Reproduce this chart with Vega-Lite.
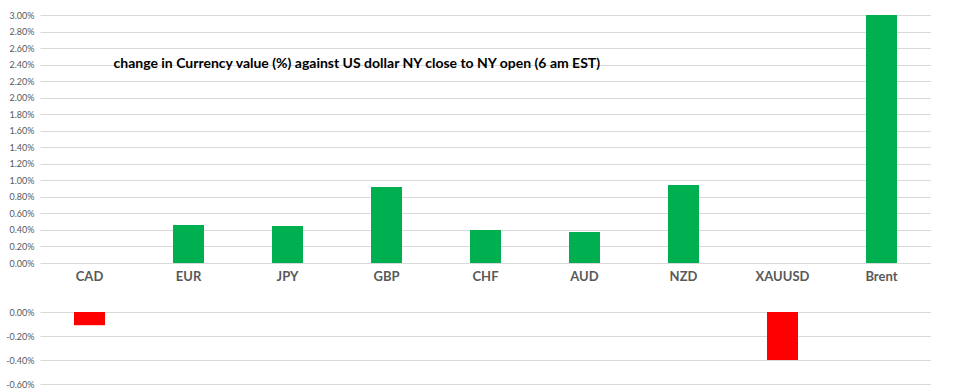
{
  "$schema": "https://vega.github.io/schema/vega-lite/v6.json",
  "padding": {"left": 5, "top": 11, "right": 0, "bottom": 0},
  "background": "white",
  "spacing": 25,
  "config": {
    "view": {"stroke": null},
    "font": "Lato",
    "axis": {"labelColor": "#595959", "gridColor": "#D9D9D9", "gridWidth": 1, "domain": false, "ticks": false, "labelOverlap": false}
  },
  "datasets": {
    "fx": [
      {"cur": "CAD", "chg": -0.0011},
      {"cur": "EUR", "chg": 0.0046},
      {"cur": "JPY", "chg": 0.00447},
      {"cur": "GBP", "chg": 0.0092},
      {"cur": "CHF", "chg": 0.0040},
      {"cur": "AUD", "chg": 0.00375},
      {"cur": "NZD", "chg": 0.00944},
      {"cur": "XAUUSD", "chg": -0.0040},
      {"cur": "Brent", "chg": 0.0300}
    ],
    "note": [
      {"cur": "CAD", "chg": 0.0241, "text": "change in Currency value (%)  against US dollar NY  close to NY open (6 am EST)"}
    ]
  },
  "vconcat": [
    {
      "width": 891,
      "height": 248,
      "encoding": {
        "x": {"field": "cur", "type": "nominal", "sort": null,
              "scale": {"domain": ["CAD","EUR","JPY","GBP","CHF","AUD","NZD","XAUUSD","Brent"], "paddingInner": 0.687, "paddingOuter": 0.3435},
              "axis": {"title": null, "labelAngle": 0, "labelFontSize": 13, "labelFontWeight": "bold", "labelPadding": 7, "grid": false, "labelOverlap": false}},
        "y": {"field": "chg", "type": "quantitative",
              "scale": {"domain": [0, 0.03], "nice": false, "clamp": true},
              "axis": {"title": null, "values": [0,0.002,0.004,0.006,0.008,0.01,0.012,0.014,0.016,0.018,0.02,0.022,0.024,0.026,0.028,0.03], "format": ".2%", "labelFontSize": 9, "labelPadding": 6, "minExtent": 34, "maxExtent": 34, "labelOverlap": false, "labelFlush": false}}
      },
      "layer": [
        {
          "data": {"name": "fx"},
          "transform": [{"filter": "datum.chg > 0"}],
          "mark": {"type": "bar", "color": "#00B050"}
        },
        {
          "data": {"name": "note"},
          "mark": {"type": "text", "align": "left", "baseline": "middle", "dx": 24, "fontSize": 14, "fontWeight": "bold", "color": "#000000"},
          "encoding": {
            "text": {"field": "text"}
          }
        }
      ]
    },
    {
      "width": 891,
      "height": 72,
      "data": {"name": "fx"},
      "transform": [{"filter": "datum.chg < 0"}],
      "mark": {"type": "bar", "color": "#FF0000"},
      "encoding": {
        "x": {"field": "cur", "type": "nominal", "sort": null,
              "scale": {"domain": ["CAD","EUR","JPY","GBP","CHF","AUD","NZD","XAUUSD","Brent"], "paddingInner": 0.687, "paddingOuter": 0.3435},
              "axis": null},
        "y": {"field": "chg", "type": "quantitative",
              "scale": {"domain": [-0.006, 0], "nice": false},
              "axis": {"title": null, "values": [0,-0.002,-0.004,-0.006], "labelExpr": "replace(format(datum.value, '.2%'), '\u2212', '-')", "labelFontSize": 9, "labelPadding": 6, "minExtent": 34, "maxExtent": 34, "labelOverlap": false, "labelFlush": false}}
      }
    }
  ]
}
